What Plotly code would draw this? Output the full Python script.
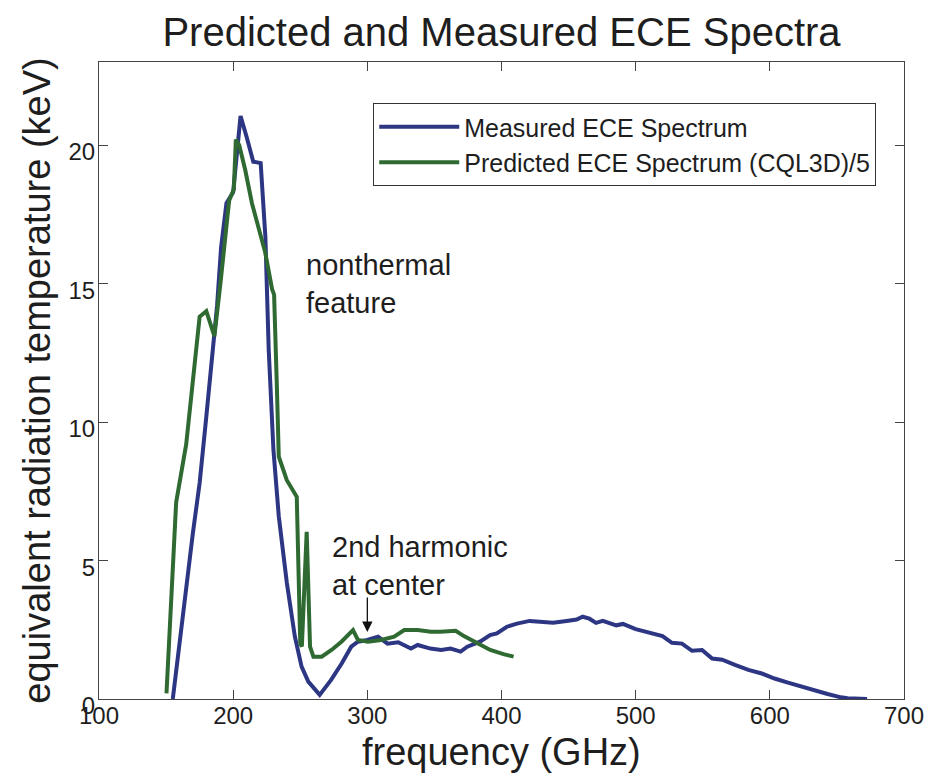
import plotly.graph_objects as go

# Measured ECE spectrum (blue)
meas_freq = [155, 160, 165, 170, 175, 180, 185, 188, 191, 195, 200, 205.5, 210, 215, 220.5,
             224, 226.5, 230, 234, 240, 246, 251, 256, 264.5, 273, 281, 288, 293, 300, 308,
             315, 323, 332.5, 337.5, 347, 355, 362, 369.5, 374.5, 384, 391.5, 396.5, 404,
             411.5, 421, 431, 438.5, 448.5, 456, 460.5, 465.5, 470.5, 475.5, 485.5, 490.5,
             500, 512.5, 520, 527, 534.5, 542, 549.5, 557, 564.5, 574, 584, 594, 603.5,
             613.5, 623.5, 633, 643, 653, 658, 672.5]
meas_keV = [0.0, 1.9, 4.0, 6.0, 7.8, 10.2, 12.8, 14.2, 16.3, 17.9, 18.3, 21.05, 20.3, 19.4, 19.35,
            16.7, 12.6, 9.0, 6.6, 4.2, 2.25, 1.17, 0.63, 0.15, 0.69, 1.29, 1.89, 2.07, 2.13, 2.25,
            2.0, 2.05, 1.82, 1.95, 1.82, 1.77, 1.82, 1.71, 1.89, 2.07, 2.31, 2.37, 2.61,
            2.72, 2.82, 2.79, 2.75, 2.82, 2.87, 2.97, 2.9, 2.75, 2.82, 2.66, 2.71,
            2.52, 2.35, 2.27, 2.03, 2.0, 1.74, 1.77, 1.46, 1.42, 1.23, 1.05, 0.92, 0.74,
            0.59, 0.44, 0.3, 0.18, 0.06, 0.03, 0.0]

# Predicted ECE spectrum (CQL3D)/5 (green)
pred_freq = [150.3, 157.5, 165, 172, 175, 180, 186, 190.5, 193, 197, 200.5, 202, 204.5, 209,
             214, 219, 224, 229, 230.5, 232.5, 234, 240, 247.4, 250, 251.2, 254.8, 257.3,
             259.8, 266, 273.3, 280.7, 289.3, 293, 300.4, 310.3, 320, 327.5, 337.5, 347.3,
             354.7, 365.8, 372, 381.8, 391.6, 401.5, 409]
pred_keV = [0.2, 7.1, 9.2, 12.4, 13.8, 14.0, 13.1, 15.0, 16.3, 18.0, 18.4, 20.2, 20.0, 19.1,
            17.9, 17.05, 16.1, 14.8, 14.6, 11.4, 8.75, 7.9, 7.3, 2.0, 1.9, 6.04, 1.89,
            1.53, 1.53, 1.77, 2.07, 2.49, 2.13, 2.07, 2.13, 2.25, 2.49, 2.49, 2.43,
            2.43, 2.46, 2.27, 2.0, 1.77, 1.62, 1.53]

x_ticks = [100, 200, 300, 400, 500, 600, 700]
y_ticks = [0, 5, 10, 15, 20]

FONT = "Liberation Sans, Arial, Helvetica, sans-serif"
BLUE = "#2c3683"
GREEN = "#2f6a32"
TXT = "#1e1e1e"

fig = go.Figure()
fig.add_trace(go.Scatter(x=meas_freq, y=meas_keV, mode="lines",
                         name="Measured ECE Spectrum",
                         line=dict(color=BLUE, width=4)))
fig.add_trace(go.Scatter(x=pred_freq, y=pred_keV, mode="lines",
                         name="Predicted ECE Spectrum (CQL3D)/5",
                         line=dict(color=GREEN, width=4)))

fig.add_annotation(x=252.5, y=15.0, xref="x", yref="y", text="nonthermal<br>feature",
                   showarrow=False, xanchor="left", yanchor="middle", align="left",
                   font=dict(family=FONT, size=29, color=TXT))
fig.add_annotation(x=272.5, y=4.8, xref="x", yref="y", text="2nd harmonic<br>at center",
                   showarrow=False, xanchor="left", yanchor="middle", align="left",
                   font=dict(family=FONT, size=29, color=TXT))
fig.add_annotation(x=300, y=2.42, xref="x", yref="y", text="", showarrow=True,
                   ax=0, ay=-36, arrowhead=2, arrowsize=1.6, arrowwidth=1.3, arrowcolor="#111")
# x-axis title placed as an annotation for precise vertical position
fig.add_annotation(x=0.5, y=0, xref="paper", yref="paper", yshift=-53,
                   text="frequency (GHz)", showarrow=False, xanchor="center", yanchor="middle",
                   font=dict(family=FONT, size=38, color=TXT))

fig.update_layout(
    width=936, height=784,
    margin=dict(l=99, r=26, t=62, b=85),
    paper_bgcolor="white", plot_bgcolor="white",
    font=dict(family=FONT, color=TXT),
    title=dict(text="Predicted and Measured ECE Spectra", xref="paper", x=0.5, xanchor="center",
               yref="container", y=0.959, yanchor="middle",
               font=dict(family=FONT, size=40, color=TXT)),
    showlegend=True,
    legend=dict(x=0.9655, y=0.9356, xanchor="right", yanchor="top",
                bordercolor="#333", borderwidth=1, bgcolor="white",
                font=dict(family=FONT, size=25, color=TXT),
                itemwidth=80, tracegroupgap=0),
    xaxis=dict(range=[100, 700], tickvals=x_ticks, ticktext=[str(v) for v in x_ticks],
               ticks="inside", ticklen=9, tickcolor="#444", showline=True, linecolor="#444",
               linewidth=1, mirror="ticks", showgrid=False, zeroline=False,
               ticklabelstandoff=-5,
               tickfont=dict(family=FONT, size=24, color=TXT)),
    yaxis=dict(range=[0, 23], tickvals=y_ticks, ticktext=[str(v) for v in y_ticks],
               ticks="inside", ticklen=9, tickcolor="#444", showline=True, linecolor="#444",
               linewidth=1, mirror="ticks", showgrid=False, zeroline=False,
               ticklabelshift=7, ticklabelstandoff=-2,
               tickfont=dict(family=FONT, size=24, color=TXT),
               title=dict(text="equivalent radiation temperature (keV)",
                          font=dict(family=FONT, size=38, color=TXT), standoff=6)),
)

# remove the default 8px page margin so the 936x784 figure fills the window exactly
fig.write_html("out.html", config={"displayModeBar": False},
               post_script="document.body.style.margin='0px';document.body.style.overflow='hidden';")
